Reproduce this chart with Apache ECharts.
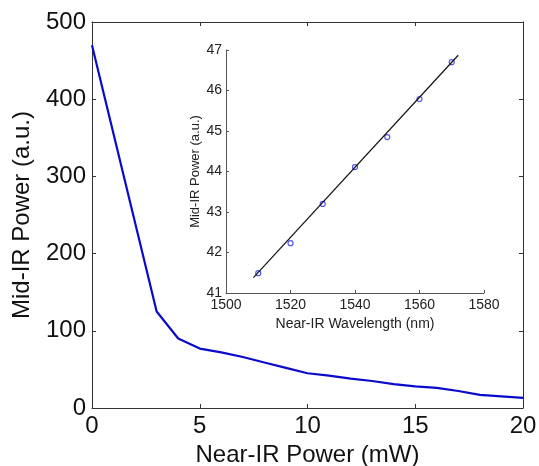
<!DOCTYPE html>
<html>
<head>
<meta charset="utf-8">
<script src="https://cdn.jsdelivr.net/npm/echarts@6/dist/echarts.min.js"></script>
<style>
  html, body { margin: 0; padding: 0; background: #fff; }
  #chart { width: 539px; height: 466px; }
</style>
</head>
<body>
<div id="chart"></div>
<script>
// main curve: mid-IR power vs near-IR pump power
const nirPower = [0, 3, 4, 5, 6, 7, 8, 9, 10, 11, 12, 13, 14, 15, 16, 17, 18, 19, 20];
const midPower = [470, 125, 90, 77, 72, 66, 59, 52, 45, 42, 38, 35, 31, 28, 26, 22, 17, 15, 13];

// inset: mid-IR power vs near-IR wavelength
const wavelength = [1510, 1520, 1530, 1540, 1550, 1560, 1570];
const insetPower = [41.49, 42.23, 43.2, 44.11, 44.85, 45.79, 46.7];
const fitX = [1508.5, 1572];
const fitY = [41.38, 46.87];

const font = 'Arial, "Liberation Sans", sans-serif';
const axisColor = '#333';

const chart = echarts.init(document.getElementById('chart'));

function pairs(xs, ys) {
  return xs.map((x, i) => [x, ys[i]]);
}

const mainAxisLine = { show: true, onZero: false, lineStyle: { color: axisColor, width: 1 } };
const mainTick = { show: true, inside: true, length: 4, lineStyle: { color: axisColor } };
const plain = (v) => String(v);

chart.setOption({
  backgroundColor: '#fff',
  animation: false,
  grid: [
    { left: 92, top: 22, right: 16, bottom: 58, outerBoundsMode: 'none' },
    { left: 226, top: 50, width: 258, height: 243, outerBoundsMode: 'none' },
  ],
  xAxis: [
    {
      gridIndex: 0, type: 'value', min: 0, max: 20, interval: 5,
      name: 'Near-IR Power (mW)', nameLocation: 'middle', nameGap: 32,
      nameTextStyle: { fontSize: 24, color: '#111', fontFamily: font },
      axisLine: mainAxisLine, axisTick: mainTick, splitLine: { show: false },
      axisLabel: { fontSize: 24, color: '#111', fontFamily: font, margin: 6 },
    },
    {
      gridIndex: 0, type: 'value', min: 0, max: 20, interval: 5, position: 'top',
      axisLine: mainAxisLine, axisTick: mainTick, splitLine: { show: false },
      axisLabel: { show: false },
    },
    {
      gridIndex: 1, type: 'value', min: 1500, max: 1580, interval: 20,
      name: 'Near-IR Wavelength (nm)', nameLocation: 'middle', nameGap: 22,
      nameTextStyle: { fontSize: 14, color: '#222', fontFamily: font },
      axisLine: { show: true, onZero: false, lineStyle: { color: '#555', width: 1 } },
      axisTick: { show: true, inside: true, length: 3, lineStyle: { color: '#555' } },
      splitLine: { show: false },
      axisLabel: { fontSize: 14, color: '#222', fontFamily: font, margin: 5, formatter: plain },
    },
  ],
  yAxis: [
    {
      gridIndex: 0, type: 'value', min: 0, max: 500, interval: 100,
      name: 'Mid-IR Power (a.u.)', nameLocation: 'middle', nameGap: 58,
      nameTextStyle: { fontSize: 24, color: '#111', fontFamily: font },
      axisLine: mainAxisLine, axisTick: mainTick, splitLine: { show: false },
      axisLabel: { fontSize: 24, color: '#111', fontFamily: font, margin: 6 },
    },
    {
      gridIndex: 0, type: 'value', min: 0, max: 500, interval: 100, position: 'right',
      axisLine: mainAxisLine, axisTick: mainTick, splitLine: { show: false },
      axisLabel: { show: false },
    },
    {
      gridIndex: 1, type: 'value', min: 41, max: 47, interval: 1,
      name: 'Mid-IR Power (a.u.)', nameLocation: 'middle', nameGap: 24,
      nameTextStyle: { fontSize: 13, color: '#222', fontFamily: font },
      axisLine: { show: true, onZero: false, lineStyle: { color: '#555', width: 1 } },
      axisTick: { show: true, inside: true, length: 3, lineStyle: { color: '#555' } },
      splitLine: { show: false },
      axisLabel: { fontSize: 14, color: '#222', fontFamily: font, margin: 4, formatter: plain },
    },
  ],
  series: [
    {
      type: 'line', xAxisIndex: 0, yAxisIndex: 0,
      data: pairs(nirPower, midPower),
      showSymbol: false, symbol: 'none',
      lineStyle: { color: '#0a0acc', width: 2.2 },
    },
    {
      type: 'line', xAxisIndex: 2, yAxisIndex: 2,
      data: pairs(fitX, fitY),
      symbol: 'none',
      lineStyle: { color: '#111', width: 1.2 },
    },
    {
      type: 'scatter', xAxisIndex: 2, yAxisIndex: 2,
      data: pairs(wavelength, insetPower),
      symbol: 'circle', symbolSize: 5,
      itemStyle: { color: 'rgba(0,0,0,0)', borderColor: '#2a2ae0', borderWidth: 1.2 },
    },
  ],
});
</script>
</body>
</html>
